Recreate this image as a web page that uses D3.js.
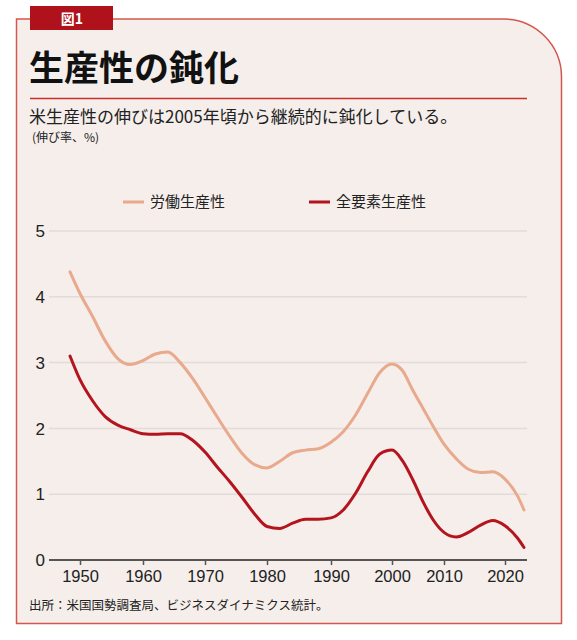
<!DOCTYPE html>
<html>
<head>
<meta charset="utf-8">
<script src="https://cdn.jsdelivr.net/npm/d3@7"></script>
<style>
  html, body { margin: 0; padding: 0; background: #fff; }
  svg { display: block; font-family: "Noto Sans CJK JP", "Noto Sans", sans-serif; }
</style>
</head>
<body>
<svg id="chart" width="577" height="640"></svg>
<script>
// 年（2年ごと＋2023）
const years = [1948, 1950, 1952, 1954, 1956, 1958, 1960, 1962, 1964, 1966, 1968,
  1970, 1972, 1974, 1976, 1978, 1980, 1982, 1984, 1986, 1988, 1990, 1992, 1994,
  1996, 1998, 2000, 2002, 2004, 2006, 2008, 2010, 2012, 2014, 2016, 2018, 2020,
  2022, 2023];

// 労働生産性（伸び率、%）
const laborValues = [4.38, 4.05, 3.70, 3.33, 3.06, 2.97, 3.03, 3.13, 3.16, 3.00, 2.76,
  2.47, 2.17, 1.88, 1.62, 1.45, 1.40, 1.50, 1.63, 1.67, 1.69, 1.79, 1.95, 2.20,
  2.53, 2.85, 2.98, 2.88, 2.58, 2.30, 2.02, 1.76, 1.54, 1.38, 1.33, 1.34, 1.23,
  0.97, 0.76];

// 全要素生産性（伸び率、%）
const tfpValues = [3.10, 2.74, 2.42, 2.18, 2.05, 1.98, 1.92, 1.91, 1.92, 1.92, 1.82,
  1.64, 1.41, 1.19, 0.95, 0.70, 0.51, 0.48, 0.56, 0.62, 0.62, 0.64, 0.76, 1.01,
  1.34, 1.61, 1.67, 1.51, 1.22, 0.88, 0.60, 0.42, 0.35, 0.42, 0.53, 0.60, 0.52,
  0.33, 0.19];

const seriesNames = ["労働生産性", "全要素生産性"];
const xTicks = [1950, 1960, 1970, 1980, 1990, 2000, 2010, 2020];
const yTicks = [0, 1, 2, 3, 4, 5];

const COLORS = ["#e8a98c", "#b3141d"];

var svg = d3.select("#chart");

// パネル（右上だけ角丸）
var px0 = 16.5, py0 = 19, px1 = 561.5, py1 = 623.5, r = 58;
svg.append("path")
  .attr("d", `M${px0},${py0} H${px1 - r} A${r},${r} 0 0 1 ${px1},${py0 + r} V${py1} H${px0} Z`)
  .attr("fill", "#f5eeeb")
  .attr("stroke", "#d4574f")
  .attr("stroke-width", 1.5);

// 図1 ラベル
svg.append("rect")
  .attr("x", 30).attr("y", 6).attr("width", 83).attr("height", 24)
  .attr("fill", "#b0121b");
svg.append("text")
  .attr("x", 72).attr("y", 24)
  .attr("text-anchor", "middle")
  .attr("fill", "#fff")
  .attr("font-size", 14)
  .attr("font-weight", 700)
  .text("図1");

// タイトル
svg.append("text")
  .attr("x", 29).attr("y", 81)
  .attr("font-size", 35)
  .attr("font-weight", 700)
  .attr("fill", "#111")
  .text("生産性の鈍化");

svg.append("line")
  .attr("x1", 30).attr("x2", 527)
  .attr("y1", 98.5).attr("y2", 98.5)
  .attr("stroke", "#c8302c")
  .attr("stroke-width", 1.5);

svg.append("text")
  .attr("x", 29).attr("y", 123)
  .attr("font-size", 17)
  .attr("fill", "#222")
  .text("米生産性の伸びは2005年頃から継続的に鈍化している。");

svg.append("text")
  .attr("x", 32).attr("y", 142)
  .attr("font-size", 12)
  .attr("fill", "#222")
  .text("(伸び率、%)");

// スケール（目盛り位置が元図で不等間隔なので区分線形）
var x = d3.scaleLinear()
  .domain([1948, 1950, 1960, 1970, 1980, 1990, 2000, 2010, 2020, 2023])
  .range([70, 80, 143, 205, 267, 331, 392, 444, 505, 524]);
var y = d3.scaleLinear().domain([0, 5]).range([560, 231]);

var plotLeft = 49, plotRight = 527;

// グリッド
svg.append("g")
  .selectAll("line")
  .data(yTicks.filter((d) => d > 0))
  .join("line")
  .attr("x1", plotLeft).attr("x2", plotRight)
  .attr("y1", (d) => y(d)).attr("y2", (d) => y(d))
  .attr("stroke", "#e1dcd9")
  .attr("stroke-width", 1.5);

// Y軸ラベル
svg.append("g")
  .selectAll("text")
  .data(yTicks)
  .join("text")
  .attr("x", 45)
  .attr("y", (d) => y(d))
  .attr("dy", "0.36em")
  .attr("text-anchor", "end")
  .attr("font-family", "'Liberation Sans', sans-serif")
  .attr("font-size", 17)
  .attr("fill", "#222")
  .text((d) => d);

// X軸
var xAxis = d3.axisBottom(x)
  .tickValues(xTicks)
  .tickFormat(d3.format("d"))
  .tickSize(5)
  .tickPadding(5);

var xg = svg.append("g")
  .attr("transform", `translate(0,${y(0)})`)
  .call(xAxis);
xg.select(".domain").remove();
xg.selectAll(".tick line").attr("stroke", "#555").attr("stroke-width", 1.5);
xg.selectAll(".tick text")
  .attr("font-family", "'Liberation Sans', sans-serif")
  .attr("font-size", 16.5)
  .attr("fill", "#222");
xg.insert("line", ":first-child")
  .attr("x1", plotLeft).attr("x2", plotRight)
  .attr("y1", 0).attr("y2", 0)
  .attr("stroke", "#555")
  .attr("stroke-width", 2);

// 線
var line = d3.line()
  .x((d) => x(d[0]))
  .y((d) => y(d[1]))
  .curve(d3.curveMonotoneX);

[laborValues, tfpValues].forEach(function (vals, i) {
  svg.append("path")
    .datum(years.map((yr, j) => [yr, vals[j]]))
    .attr("fill", "none")
    .attr("stroke", COLORS[i])
    .attr("stroke-width", 3)
    .attr("stroke-linecap", "round")
    .attr("stroke-linejoin", "round")
    .attr("d", line);
});

// 凡例
var legendPos = [123, 309];
var legend = svg.append("g")
  .selectAll("g")
  .data(seriesNames)
  .join("g")
  .attr("transform", (d, i) => `translate(${legendPos[i]},202)`);
legend.append("line")
  .attr("x1", 0).attr("x2", 21)
  .attr("stroke", (d, i) => COLORS[i])
  .attr("stroke-width", 3);
legend.append("text")
  .attr("x", 27)
  .attr("dy", "0.36em")
  .attr("font-size", 15)
  .attr("fill", "#222")
  .text((d) => d);

// 出所
svg.append("text")
  .attr("x", 29).attr("y", 610)
  .attr("font-size", 12.5)
  .attr("fill", "#222")
  .text("出所：米国国勢調査局、ビジネスダイナミクス統計。");
</script>
</body>
</html>
